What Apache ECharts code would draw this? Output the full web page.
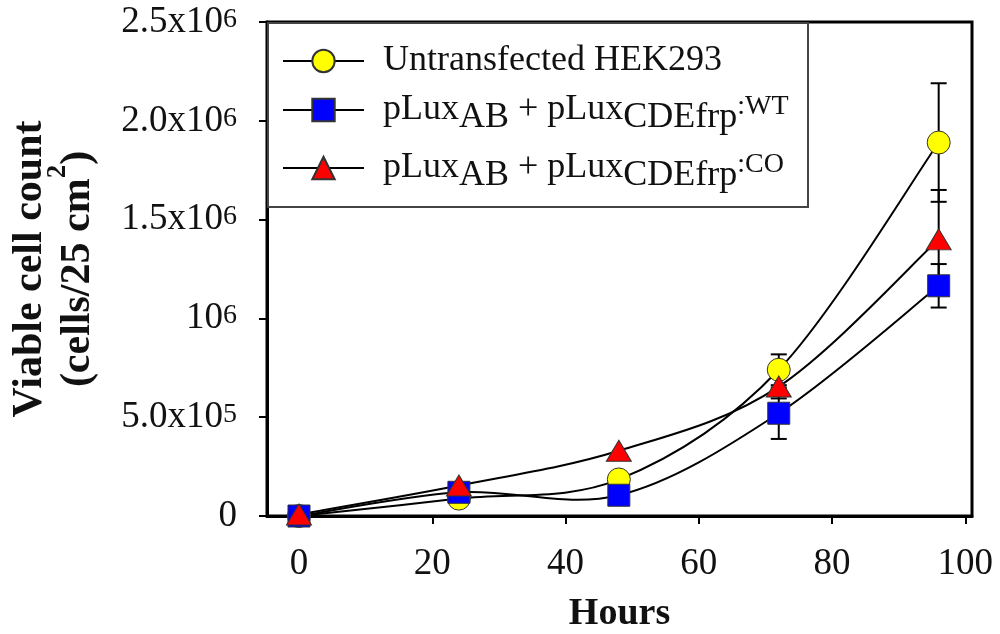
<!DOCTYPE html>
<html><head><meta charset="utf-8">
<script src="https://cdn.jsdelivr.net/npm/echarts@6/dist/echarts.min.js"></script>
<style>html,body{margin:0;padding:0;background:#fff}#c{width:1000px;height:634px}</style>
</head><body><div id="c"></div>
<script>
// ---- data ----
const hours = [0, 24, 48, 72, 96];
const untransfected = [0, 88000, 185000, 740000, 1890000];
const untransfectedErr = [0, 0, 0, 78000, 300000];
const wt = [0, 120000, 105000, 520000, 1165000];
const wtErr = [0, 0, 0, 130000, 110000];
const co = [8000, 154000, 330000, 655000, 1400000];
const coErr = [0, 0, 0, 60000, 250000];
const xTicks = [0, 20, 40, 60, 80, 100];
const yTickValues = [0, 500000, 1000000, 1500000, 2000000, 2500000];
const yTickLabels = ['0', '{n|5.0x10}{sup|5}', '{n|10}{sup|6}', '{n|1.5x10}{sup|6}', '{n|2.0x10}{sup|6}', '{n|2.5x10}{sup|6}'];
const seriesNames = ['Untransfected HEK293', 'pLuxAB + pLuxCDEfrp:WT', 'pLuxAB + pLuxCDEfrp:CO'];
const legendLabels = [
  '{n|Untransfected HEK293}',
  '{n|pLux}{sub|AB}{n| + pLux}{sub|CDEfrp}{sup|:WT}',
  '{n|pLux}{sub|AB}{n| + pLux}{sub|CDEfrp}{sup|:CO}'
];
const yName = '{t|Viable cell count}\n{t|(cells/25 cm}{sup|2}{t|)}';
const xName = 'Hours';

// ---- chart ----
const FONT = "'Liberation Serif', 'Times New Roman', Times, serif";
const chart = echarts.init(document.getElementById('c'), null, {renderer: 'canvas'});

function pts(vals) { return hours.map((h, i) => [h, vals[i]]); }
function errPts(vals, errs) { return hours.map((h, i) => [h, vals[i], errs[i]]); }

function errSeries(vals, errs) {
  return {
    type: 'custom', silent: true, data: errPts(vals, errs), z: 2,
    encode: {x: 0, y: 1},
    renderItem(params, api) {
      const x = api.value(0), y = api.value(1), e = api.value(2);
      if (!(e > 0)) return null;
      const top = api.coord([x, y + e]), bot = api.coord([x, y - e]);
      const w = 8;
      const st = {stroke: '#000', lineWidth: 2};
      return {type: 'group', children: [
        {type: 'line', shape: {x1: top[0], y1: top[1], x2: bot[0], y2: bot[1]}, style: st},
        {type: 'line', shape: {x1: top[0] - w, y1: top[1], x2: top[0] + w, y2: top[1]}, style: st},
        {type: 'line', shape: {x1: bot[0] - w, y1: bot[1], x2: bot[0] + w, y2: bot[1]}, style: st}
      ]};
    }
  };
}
// smoothed connecting curve (Catmull-Rom through the data points, via the axis scales)
function curveSeries(vals) {
  return {
    type: 'custom', silent: true, data: pts(vals), z: 2,
    encode: {x: 0, y: 1},
    renderItem(params, api) {
      if (params.dataIndex !== 0) return null;
      const P = hours.map((h, i) => api.coord([h, vals[i]]));
      const n = P.length;
      const children = [];
      for (let i = 0; i < n - 1; i++) {
        const p0 = P[Math.max(i - 1, 0)], p1 = P[i], p2 = P[i + 1], p3 = P[Math.min(i + 2, n - 1)];
        children.push({
          type: 'bezierCurve',
          shape: {
            x1: p1[0], y1: p1[1], x2: p2[0], y2: p2[1],
            cpx1: p1[0] + (p2[0] - p0[0]) / 6, cpy1: p1[1] + (p2[1] - p0[1]) / 6,
            cpx2: p2[0] - (p3[0] - p1[0]) / 6, cpy2: p2[1] - (p3[1] - p1[1]) / 6
          },
          style: {stroke: '#000', lineWidth: 2, fill: null}
        });
      }
      return {type: 'group', children: children};
    }
  };
}
function markerSeries(name, vals, symbol, size, color) {
  return {
    type: 'line', name: name, data: pts(vals),
    symbol: symbol, symbolSize: size, showSymbol: true, z: 2,
    lineStyle: {color: '#000', width: 2, opacity: 0},
    itemStyle: {color: color, borderColor: '#333', borderWidth: 1},
    emphasis: {disabled: true}
  };
}

const legendRich = {
  n: {fontFamily: FONT, fontSize: 36, lineHeight: 28, height: 28, color: '#111'},
  sub: {fontFamily: FONT, fontSize: 36, lineHeight: 13, height: 13, verticalAlign: 'bottom', color: '#111'},
  sup: {fontFamily: FONT, fontSize: 28, lineHeight: 21, height: 21, verticalAlign: 'top', color: '#111'}
};
const legendTops = [43, 92, 150];

const option = {
  animation: false,
  backgroundColor: '#fff',
  grid: {left: 267, right: 28, top: 22, bottom: 118, show: true, borderColor: '#000', borderWidth: 3,
         containLabel: false, outerBoundsMode: 'none'},
  graphic: [{
    type: 'rect', left: 267, top: 22, z: 3,
    shape: {width: 540, height: 184},
    style: {fill: '#fff', stroke: '#444', lineWidth: 2}
  }],
  legend: seriesNames.map((nm, i) => ({
    data: [nm], left: 282, top: legendTops[i], orient: 'vertical', z: 5,
    itemWidth: 81, itemHeight: 28, itemGap: 0, padding: 0, selectedMode: false,
    lineStyle: {color: '#000', width: 2, opacity: 1, type: 'solid'},
    formatter: () => legendLabels[i],
    textStyle: {fontFamily: FONT, fontSize: 36, color: '#111', padding: [0, 0, 0, 14], rich: legendRich}
  })),
  xAxis: {
    type: 'value', min: -4.8, max: 101,
    name: xName, nameLocation: 'middle', nameGap: 79, nameMoveOverlap: false,
    nameTextStyle: {fontFamily: FONT, fontSize: 38, fontWeight: 'bold', color: '#111', lineHeight: 38},
    axisLine: {onZero: false, lineStyle: {color: '#000', width: 3}},
    axisTick: {show: true, inside: false, length: 8, lineStyle: {color: '#000', width: 2}, customValues: xTicks},
    axisLabel: {customValues: xTicks, margin: 30, fontFamily: FONT, fontSize: 37, lineHeight: 37, color: '#111'},
    splitLine: {show: false}
  },
  yAxis: {
    type: 'value', min: 0, max: 2500000, interval: 500000,
    name: yName, nameLocation: 'middle', nameRotate: 90, nameGap: 165, nameMoveOverlap: false,
    nameTextStyle: {fontFamily: FONT, fontSize: 42, fontWeight: 'bold', color: '#111', lineHeight: 48,
      rich: {
        t: {fontFamily: FONT, fontSize: 42, fontWeight: 'bold', color: '#111', lineHeight: 48},
        sup: {fontFamily: FONT, fontSize: 27, fontWeight: 'bold', color: '#111', lineHeight: 8, height: 8, verticalAlign: 'top'}
      }},
    axisLine: {show: true, onZero: false, lineStyle: {color: '#000', width: 3}},
    axisTick: {show: true, inside: false, length: 8, lineStyle: {color: '#000', width: 2}},
    axisLabel: {
      margin: 30, fontFamily: FONT, fontSize: 37, color: '#111',
      formatter: (v) => { const k = yTickValues.indexOf(v); return k >= 0 ? yTickLabels[k] : ''; },
      rich: {
        n: {fontFamily: FONT, fontSize: 37, lineHeight: 37, height: 37, color: '#111'},
        sup: {fontFamily: FONT, fontSize: 28, lineHeight: 32, height: 32, verticalAlign: 'top', color: '#111'}
      }
    },
    splitLine: {show: false}
  },
  series: [
    errSeries(untransfected, untransfectedErr),
    curveSeries(untransfected),
    markerSeries(seriesNames[0], untransfected, 'circle', 23, '#ffff00'),
    errSeries(wt, wtErr),
    curveSeries(wt),
    markerSeries(seriesNames[1], wt, 'rect', 22, '#0000ff'),
    errSeries(co, coErr),
    curveSeries(co),
    markerSeries(seriesNames[2], co, 'triangle', [25, 21], '#ff0000')
  ]
};
chart.setOption(option);
</script>
</body></html>
